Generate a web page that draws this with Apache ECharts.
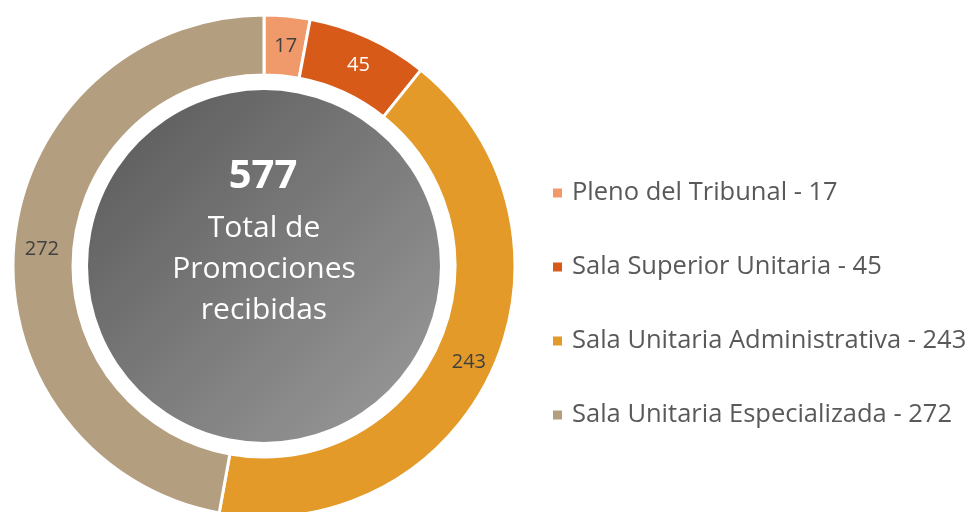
<!DOCTYPE html>
<html>
<head>
<meta charset="utf-8">
<script src="https://cdn.jsdelivr.net/npm/echarts@6/dist/echarts.min.js"></script>
<style>
html,body{margin:0;padding:0;background:#fff;}
#chart{width:975px;height:512px;}
</style>
</head>
<body>
<div id="chart"></div>
<script>
const categories = ['Pleno del Tribunal', 'Sala Superior Unitaria', 'Sala Unitaria Administrativa', 'Sala Unitaria Especializada'];
const values = [17, 45, 243, 272];
const colors = ['#F0996B', '#D85A19', '#E39A28', '#B39E7F'];
const labelColors = ['#404040', '#ffffff', '#404040', '#404040'];
const centerLines = ['Total de', 'Promociones', 'recibidas'];

const total = values.reduce((a, b) => a + b, 0);
const FONT = '"Open Sans"';

const chart = echarts.init(document.getElementById('chart'), null, {renderer: 'canvas'});

const lineYs = [228, 269, 310];
const centerGraphics = [{
  type: 'text',
  x: 263,
  y: 177,
  z: 100,
  silent: true,
  style: {text: String(total), fill: '#ffffff', font: 'bold 40px ' + FONT, align: 'center', verticalAlign: 'middle'}
}].concat(centerLines.map((t, i) => ({
  type: 'text',
  x: 264,
  y: lineYs[i],
  z: 100,
  silent: true,
  style: {text: t, fill: '#ffffff', font: '30px ' + FONT, align: 'center', verticalAlign: 'middle'}
})));

chart.setOption({
  animation: false,
  legend: {
    orient: 'vertical',
    left: 546,
    top: 173,
    icon: 'rect',
    itemWidth: 11,
    itemHeight: 11,
    itemGap: 44,
    data: categories,
    formatter: function (name) {
      const i = categories.indexOf(name);
      return name + ' - ' + values[i];
    },
    textStyle: {fontFamily: FONT, fontSize: 25.5, color: '#595959', lineHeight: 30, padding: [0, 0, 0, 4]}
  },
  graphic: {elements: centerGraphics},
  series: [
    {
      type: 'pie',
      silent: true,
      z: 1,
      center: [264, 266],
      radius: [0, 176],
      label: {show: false},
      labelLine: {show: false},
      itemStyle: {
        color: new echarts.graphic.LinearGradient(0, 0, 1, 1, [
          {offset: 0, color: '#585858'},
          {offset: 1, color: '#9c9c9c'}
        ])
      },
      data: [{value: total, name: 'total'}],
      legendHoverLink: false
    },
    {
      type: 'pie',
      center: [264, 266],
      radius: [191, 251],
      startAngle: 90,
      clockwise: true,
      avoidLabelOverlap: false,
      itemStyle: {borderColor: '#ffffff', borderWidth: 3},
      label: {
        show: true,
        position: 'inside',
        formatter: '{c}',
        fontFamily: FONT,
        fontSize: 20,
        offset: [1, 3]
      },
      labelLine: {show: false},
      data: categories.map((c, i) => ({
        name: c,
        value: values[i],
        itemStyle: {color: colors[i]},
        label: {color: labelColors[i]}
      }))
    }
  ]
});
</script>
</body>
</html>
